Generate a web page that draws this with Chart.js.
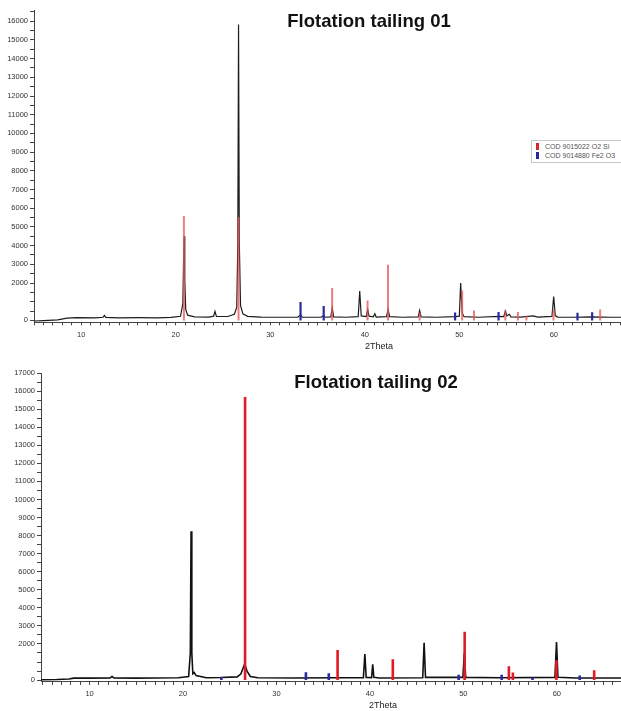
<!DOCTYPE html>
<html>
<head>
<meta charset="utf-8">
<script src="https://cdn.jsdelivr.net/npm/chart.js@4.4.1/dist/chart.umd.min.js"></script>
<style>
  html, body { margin: 0; padding: 0; background: #fff; }
  body { width: 621px; height: 711px; overflow: hidden; position: relative; font-family: "Liberation Sans", Arial, sans-serif; }
  .panel { position: absolute; left: 0; width: 621px; overflow: hidden; }
  #panel1 { top: 0; height: 352px; }
  #panel2 { top: 352px; height: 359px; }
  canvas { position: absolute; left: 0; top: 0; }
  .titre { position: absolute; font-weight: bold; font-size: 18.5px; line-height: 1; color: #111; white-space: nowrap; transform: translateX(-50%); }
  .legende { position: absolute; border: 1px solid #c8c8c8; background: #fff; padding: 2px 4px 2px 4px; font-size: 7px; line-height: 8.5px; color: #555; white-space: nowrap; width: 140px; }
  .marque { display: inline-block; width: 3px; height: 7px; margin-right: 6px; vertical-align: -1px; }
</style>
</head>
<body>

<div class="panel" id="panel1">
  <canvas id="chart01" width="730" height="352"></canvas>
  <div class="titre" style="left:369px; top:12px;">Flotation tailing 01</div>
  <div class="legende" style="left:531px; top:140px;">
    <div><span class="marque" style="background:#d9262b"></span>COD 9015022 O2 Si</div>
    <div><span class="marque" style="background:#26289a"></span>COD 9014880 Fe2 O3</div>
  </div>
</div>

<div class="panel" id="panel2">
  <canvas id="chart02" width="730" height="359"></canvas>
  <div class="titre" style="left:376px; top:21px;">Flotation tailing 02</div>
</div>

<script>
// === Données : diffractogramme "Flotation tailing 01" (courbe mesurée) ===
const theta01 = [5.0, 6.0, 7.5, 8.5, 9.5, 11.5, 12.3, 12.45, 12.6, 14.0, 16.0, 18.0, 19.5, 20.5,
  20.75, 20.82, 20.88, 20.95, 21.05, 21.25, 22.0, 23.5, 24.0, 24.15, 24.3, 25.5, 26.2, 26.45,
  26.56, 26.64, 26.72, 26.85, 27.1, 27.6, 29.0, 31.0, 32.9, 33.2, 33.4, 35.4, 35.6, 35.8,
  36.4, 36.55, 36.7, 38.0, 39.3, 39.46, 39.62, 40.15, 40.3, 40.45, 40.9, 41.06, 41.2, 42.3,
  42.46, 42.62, 44.0, 45.65, 45.8, 45.95, 47.5, 49.6, 50.0, 50.14, 50.3, 50.5, 52.0, 54.2,
  54.7, 54.87, 55.02, 55.3, 55.45, 56.5, 57.3, 57.8, 58.3, 59.8, 59.98, 60.15, 60.4, 62.0,
  64.0, 66.0, 70.0, 78.0];
const counts01 = [-30, -10, 30, 120, 150, 140, 170, 260, 160, 140, 150, 140, 160, 220,
  900, 3000, 4500, 2200, 600, 280, 190, 180, 230, 480, 220, 210, 330, 700,
  4000, 15830, 4200, 800, 350, 220, 180, 170, 170, 300, 170, 170, 260, 170,
  190, 660, 190, 170, 200, 1570, 240, 210, 590, 230, 190, 360, 180, 200,
  590, 200, 170, 190, 530, 190, 170, 200, 230, 2000, 400, 200, 170, 220,
  200, 500, 250, 330, 190, 180, 220, 240, 180, 220, 1280, 260, 180, 170,
  190, 170, 170, 170];

// Raies de référence COD 9015022 (quartz) et COD 9014880 (hématite)
const quartzTheta01 = [20.86, 26.64, 36.54, 40.29, 42.45, 45.8, 50.3, 51.55, 54.87, 56.2, 57.1, 59.96, 64.9];
const quartzCounts01 = [5580, 5520, 1730, 1070, 2980, 420, 1600, 530, 530, 450, 250, 590, 590];
const hemTheta01 = [33.2, 35.65, 49.55, 54.15, 62.5, 64.05];
const hemCounts01 = [980, 770, 430, 450, 410, 440];

// === Données : diffractogramme "Flotation tailing 02" ===
const theta02 = [4.8, 6.5, 7.8, 8.3, 10.0, 12.2, 12.4, 12.6, 15.0, 17.0, 19.5, 20.6,
  20.78, 20.86, 20.94, 21.05, 21.2, 21.4, 22.5, 24.0, 25.8, 26.2, 26.45, 26.6, 26.85, 27.2,
  28.0, 32.0, 36.2, 36.7, 39.3, 39.46, 39.6, 40.18, 40.3, 40.42, 41.0, 45.65, 45.8, 45.95,
  49.95, 50.1, 50.25, 54.0, 59.8, 59.97, 60.12, 62.0, 66.0, 78.0];
const counts02 = [20, 30, 60, 110, 110, 120, 200, 120, 110, 120, 130, 200,
  1500, 8240, 1500, 350, 420, 250, 130, 140, 180, 350, 700, 900, 500, 200,
  130, 120, 130, 130, 130, 1440, 150, 140, 880, 150, 120, 130, 2060, 150,
  150, 1500, 150, 130, 150, 2110, 160, 120, 120, 120];

const quartzTheta02 = [26.64, 36.54, 42.45, 50.14, 54.87, 55.3, 59.96, 64.0];
const quartzCounts02 = [15670, 1660, 1160, 2670, 770, 420, 1100, 540];
const hemTheta02 = [24.1, 33.15, 35.6, 49.5, 54.1, 57.4, 62.45];
const hemCounts02 = [170, 430, 380, 300, 300, 150, 260];

// === Graduations ===
const yMajor = 1000;   // libellé tous les 1000 coups
const yMinor = 500;    // petite graduation tous les 500
const yHidden = [1000]; // libellé absent sur l'original (trop près du 0)
const xMajor = 10;     // libellé tous les 10 degrés
const xMinor = 1;

Chart.defaults.font.family = "'Liberation Sans', Arial, sans-serif";
Chart.defaults.color = "#333";

// Courbe mesurée -> points {x, y}
function courbe(thetas, counts) {
  return thetas.map((t, i) => ({ x: t, y: counts[i] }));
}

// Raies verticales : segments séparés par un point null
function raies(thetas, counts) {
  const pts = [];
  thetas.forEach((t, i) => {
    pts.push({ x: t, y: 0 }, { x: t, y: counts[i] }, { x: t, y: null });
  });
  return pts;
}

function isMultiple(v, step) {
  return Math.abs(v / step - Math.round(v / step)) < 1e-6;
}

// Liste des graduations entre deux bornes (multiples du pas)
function graduations(min, max, step) {
  const out = [];
  for (let v = Math.ceil(min / step) * step; v <= max + 1e-9; v += step) out.push({ value: v });
  return out;
}

// === Fonction utilitaire : création d'un diffractogramme ===
function buildChart(canvasId, cfg) {
  return new Chart(document.getElementById(canvasId), {
    type: 'line',
    data: { datasets: cfg.datasets },
    options: {
      responsive: false,
      animation: false,
      layout: { padding: cfg.padding },
      plugins: { legend: { display: false }, tooltip: { enabled: false }, title: { display: false } },
      elements: { point: { radius: 0 }, line: { tension: 0 } },
      scales: {
        x: {
          type: 'linear',
          min: cfg.xMin,
          max: cfg.xMax,
          afterBuildTicks: axis => { axis.ticks = graduations(cfg.xMin, cfg.xMax, xMinor); },
          afterFit: scale => { scale.height = cfg.xHeight; },
          ticks: {
            autoSkip: false,
            maxRotation: 0,
            minRotation: 0,
            padding: 5,
            font: { size: 7.5 },
            color: '#333',
            callback: v => (isMultiple(v, xMajor) ? String(Math.round(v)) : '')
          },
          grid: { drawOnChartArea: false, drawTicks: true, tickLength: 3, color: '#444' },
          border: { display: true, color: '#444', width: 1 },
          title: { display: true, text: '2Theta', font: { size: 9 }, color: '#222', padding: { top: 0, bottom: 0 } }
        },
        y: {
          min: -100,
          max: cfg.yMax,
          afterBuildTicks: axis => { axis.ticks = graduations(0, cfg.yMax, yMinor); },
          afterFit: scale => { scale.width = cfg.yWidth; },
          ticks: {
            autoSkip: false,
            padding: 2,
            font: { size: 7.5 },
            color: '#333',
            callback: v => (isMultiple(v, yMajor) && !yHidden.includes(Math.round(v)) ? String(Math.round(v)) : '')
          },
          grid: { drawOnChartArea: false, drawTicks: true, tickLength: 4, color: '#444' },
          border: { display: true, color: '#444', width: 1 }
        }
      }
    }
  });
}

// === Graphique 01 ===
buildChart('chart01', {
  xMin: 5, xMax: 78, yMax: 16600, yWidth: 34, xHeight: 29.7,
  padding: { top: 10, right: 6, left: 0, bottom: 0 },
  datasets: [
    { label: 'Flotation tailing 01', data: courbe(theta01, counts01), borderColor: '#1c1c1c', borderWidth: 1.2, order: 3 },
    { label: 'COD 9015022 O2 Si', data: raies(quartzTheta01, quartzCounts01), borderColor: 'rgba(232,88,88,0.78)', borderWidth: 2, order: 2 },
    { label: 'COD 9014880 Fe2 O3', data: raies(hemTheta01, hemCounts01), borderColor: '#2a2aa0', borderWidth: 2.2, order: 1 }
  ]
});

// === Graphique 02 ===
buildChart('chart02', {
  xMin: 4.8, xMax: 78, yMax: 17000, yWidth: 41, xHeight: 29.1,
  padding: { top: 21, right: 3, left: 0, bottom: 0 },
  datasets: [
    { label: 'Flotation tailing 02', data: courbe(theta02, counts02), borderColor: '#111', borderWidth: 1.6, order: 3 },
    { label: 'COD 9015022 O2 Si', data: raies(quartzTheta02, quartzCounts02), borderColor: '#e01b24', borderWidth: 2.6, order: 2 },
    { label: 'COD 9014880 Fe2 O3', data: raies(hemTheta02, hemCounts02), borderColor: '#2a2aa0', borderWidth: 2.6, order: 1 }
  ]
});
</script>
</body>
</html>
